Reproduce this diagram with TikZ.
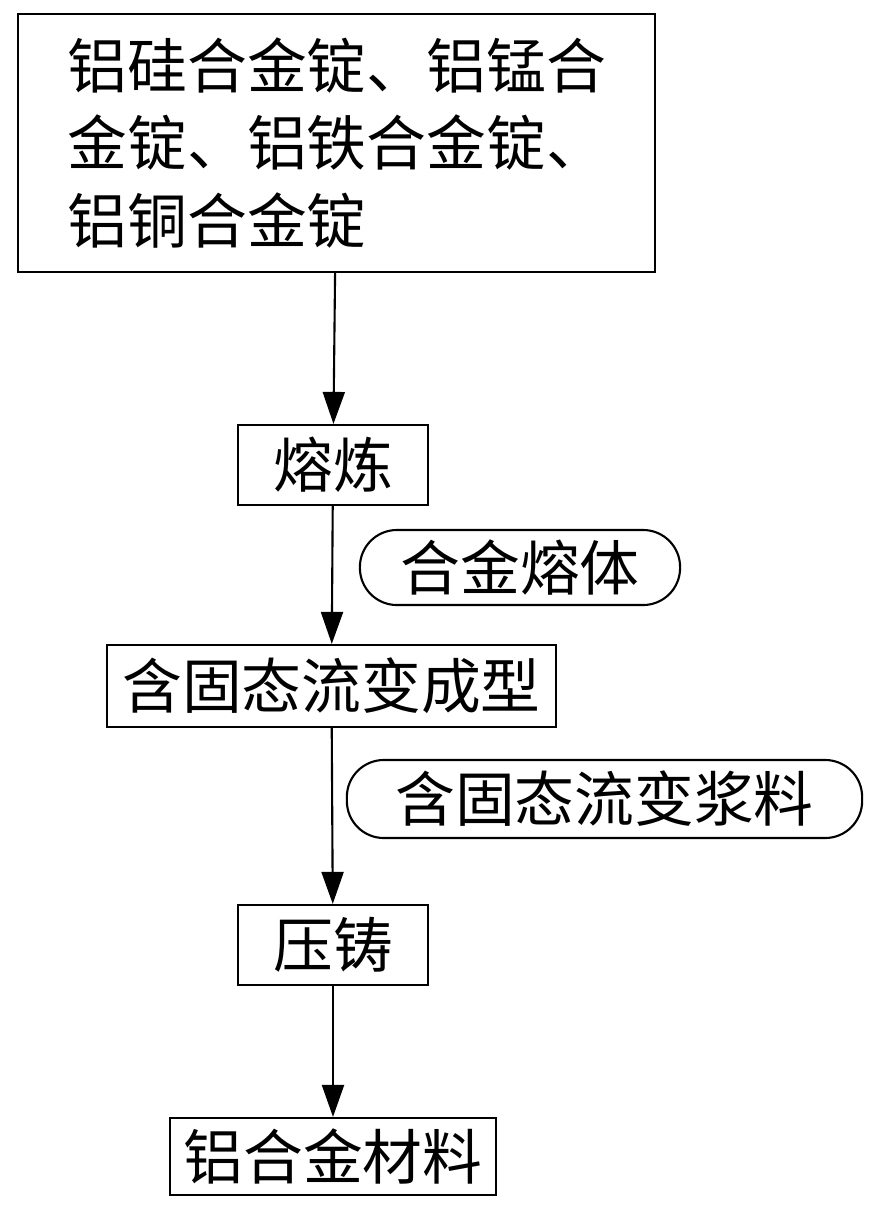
\documentclass[tikz,border=0pt]{standalone}
\usepackage{fontspec}
\setmainfont{Noto Sans CJK SC}
\usetikzlibrary{arrows.meta}
\tikzset{
  stage/.style={draw, line width=0.6pt, inner sep=0pt, font=\fontsize{17}{22}\selectfont},
  tag/.style={draw, rounded corners=0.37cm, line width=0.6pt, inner sep=0pt, font=\fontsize{17}{22}\selectfont},
  flow/.style={-{Triangle[length=0.32cm,width=0.22cm]}, line width=0.6pt}
}
\begin{document}
\begin{tikzpicture}[x=0.01cm,y=-0.01cm]
				\useasboundingbox (0,0) rectangle (879,1211);
				\node (ingot) at (336.5,143) [stage, inner xsep=0.5cm, minimum height=2.58cm, text width=5.37cm, align=left]
					{铝硅合金锭、铝锰合\\金锭、铝铁合金锭、\\铝铜合金锭};
				\node (melt) at (333,465) [stage, minimum width=1.9cm, minimum height=0.8cm] {熔炼};
				\node (form) at (331.5,686) [stage, minimum width=4.49cm, minimum height=0.82cm] {含固态流变成型};
				\node (cast) at (333,945) [stage, minimum width=1.9cm, minimum height=0.8cm] {压铸};
				\node (alloy) at (333,1156.5) [stage, minimum width=3.26cm, minimum height=0.77cm] {铝合金材料};
				\node (liquid) at (520,567.5) [tag, minimum width=3.2cm, minimum height=0.75cm] {合金熔体};
				\node (slurry) at (604.5,799) [tag, minimum width=5.15cm, minimum height=0.78cm] {含固态流变浆料};
				\draw
				(ingot) edge[flow] (melt)
				(melt) edge[flow] (form)
				(form) edge[flow] (cast)
				(cast) edge[flow] (alloy)
				;
			\end{tikzpicture}
\end{document}
